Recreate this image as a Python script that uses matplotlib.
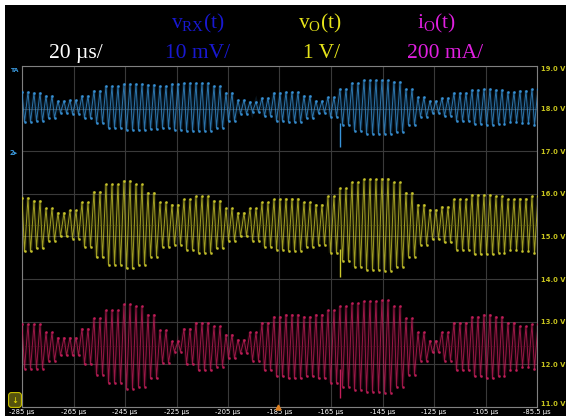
import numpy as np
import matplotlib
matplotlib.use("Agg")
import matplotlib.pyplot as plt

plt.rcParams['mathtext.fontset'] = 'custom'
plt.rcParams['mathtext.rm'] = 'Liberation Serif'
plt.rcParams['mathtext.it'] = 'Liberation Serif:italic'

# ---------------- data ----------------
# envelope sample times (µs), one every 5 µs across the screen
env_t = list(range(-285, -84, 5))

# half peak-to-peak amplitude of each trace (in screen volts) at env_t
blue_amp = [0.35, 0.33, 0.26, 0.14, 0.16, 0.26, 0.38, 0.49, 0.54, 0.54, 0.52,
            0.49, 0.54, 0.56, 0.56, 0.49, 0.33, 0.16, 0.12, 0.21, 0.33, 0.35,
            0.26, 0.14, 0.23, 0.42, 0.56, 0.63, 0.63, 0.59, 0.42, 0.23, 0.14,
            0.21, 0.33, 0.40, 0.42, 0.40, 0.35, 0.38, 0.42]
yellow_amp = [0.63, 0.56, 0.38, 0.28, 0.33, 0.52, 0.77, 0.94, 1.03, 0.94, 0.75,
              0.52, 0.47, 0.59, 0.66, 0.56, 0.38, 0.28, 0.38, 0.52, 0.59, 0.61,
              0.52, 0.47, 0.66, 0.85, 0.99, 1.06, 1.08, 0.99, 0.75, 0.47, 0.35,
              0.42, 0.59, 0.70, 0.70, 0.66, 0.59, 0.61, 0.66]
pink_amp = [0.52, 0.52, 0.33, 0.21, 0.21, 0.42, 0.66, 0.85, 0.99, 0.94, 0.75,
            0.38, 0.12, 0.42, 0.56, 0.47, 0.28, 0.16, 0.33, 0.56, 0.70, 0.75,
            0.70, 0.75, 0.85, 0.94, 1.01, 1.06, 1.08, 0.94, 0.66, 0.33, 0.14,
            0.33, 0.56, 0.70, 0.75, 0.70, 0.56, 0.47, 0.52]

# trace centre levels (screen volts)
blue_center = 18.04
yellow_center = 15.28
pink_center = 12.42

# carrier period of the switching ripple (µs)
carrier_period = 2.33

# glitch near t = -161.5 µs: (top, bottom) of the spike per trace
glitch_t = -161.5
glitch_blue = (17.66, 17.10)
glitch_yellow = (14.70, 14.05)
glitch_pink = (11.90, 11.20)

# axes ticks / labels
x_ticks = [-285, -265, -245, -225, -205, -185, -165, -145, -125, -105, -85]
x_labels = ['-285 µs', '-265 µs', '-245 µs', '-225 µs', '-205 µs', '-185 µs',
            '-165 µs', '-145 µs', '-125 µs', '-105 µs', '-85.5 µs']
y_ticks = [11, 12, 13, 14, 15, 16, 17, 18, 19]
y_labels = ['11.0 V', '12.0 V', '13.0 V', '14.0 V', '15.0 V', '16.0 V',
            '17.0 V', '18.0 V', '19.0 V']

# header texts
header_scales = ['20 µs/', '10 mV/', '1 V/', '200 mA/']
header_names = [r'$\mathrm{v_{RX}(t)}$', r'$\mathrm{v_{O}(t)}$', r'$\mathrm{i_{O}(t)}$']

# ---------------- figure ----------------
W, H = 566, 419
fig = plt.figure(figsize=(W / 100, H / 100), dpi=100, facecolor='white')
bg = plt.Rectangle((5 / W, 3 / H), 1 - 5 / W, 1 - 3 / H - 5 / H,
                   transform=fig.transFigure, facecolor='black',
                   edgecolor='none', zorder=-10)
fig.add_artist(bg)

ax = fig.add_axes([22 / W, 1 - 407 / H, (537 - 22) / W, (407 - 66) / H])
ax.set_zorder(1)
ax.set_facecolor('black')
ax.set_xlim(-285, -85)
ax.set_ylim(11, 19)
ax.set_xticks(x_ticks)
ax.set_xticklabels(x_labels, color='white', fontsize=4.9, family='DejaVu Sans')
ax.set_yticks(y_ticks)
ax.yaxis.tick_right()
ax.set_yticklabels(y_labels, color='#c8c41e', fontsize=4.9, fontweight='bold',
                   family='DejaVu Sans')
ax.tick_params(length=0, pad=1.5)
ax.tick_params(axis='y', pad=3)
ax.grid(True, color='#3a3a3a', linewidth=0.8)
for s in ax.spines.values():
    s.set_color('#808080')
    s.set_linewidth(0.8)
labs = ax.get_yticklabels()
labs[0].set_va('bottom')
labs[-1].set_va('top')

# centre dotted axis
ax.axvline(-185, color='#8a8a8a', linestyle=(0, (1, 2)), linewidth=0.7, zorder=1)


def build_trace(center, amp):
    tt, vv = [], []
    n = int(np.ceil(200 / carrier_period)) + 1
    env = np.array(env_t)
    for k in range(n):
        t0 = -285 + k * carrier_period
        idx = int(np.argmin(np.abs(env - t0)))
        a = amp[idx]
        tt += [t0, t0 + 0.42 * carrier_period]
        vv += [center + a, center - a]
    return np.array(tt), np.array(vv)


traces = [
    (blue_center, blue_amp, '#3894da', glitch_blue),
    (yellow_center, yellow_amp, '#cdc92c', glitch_yellow),
    (pink_center, pink_amp, '#c41e5a', glitch_pink),
]
for center, amp, col, gl in traces:
    tt, vv = build_trace(center, amp)
    ax.plot(tt, vv, color=col, linewidth=2.6, alpha=0.14, zorder=2,
            solid_joinstyle='miter')
    ax.plot(tt, vv, color=col, linewidth=0.7, alpha=0.75, zorder=3)
    ax.plot(tt, vv, linestyle='none', marker='o', markersize=1.0,
            color=col, alpha=0.8, zorder=3)
    ax.axhline(center, color=col, linestyle=(0, (1, 3)), linewidth=0.5,
               alpha=0.4, zorder=2)
    ax.vlines(glitch_t, gl[1], gl[0], color=col, linewidth=1.0, zorder=4)

# ---------------- header ----------------
hfont = dict(family='Liberation Serif', fontsize=15.5, ha='center', va='baseline')
scale_x = [76, 198, 322, 445]
scale_cols = ['white', '#1818d0', '#e6e41a', '#e020e0']
for s, x, c in zip(header_scales, scale_x, scale_cols):
    fig.text(x / W, 1 - 58 / H, s, color=c, **hfont)
name_x = [198, 320, 436]
for s, x, c in zip(header_names, name_x, scale_cols[1:]):
    fig.text(x / W, 1 - 28 / H, s, color=c, **hfont)

# ---------------- scope markers ----------------
fig.text(10 / W, 1 - 71 / H, 'TA', color='#3a98dc', fontsize=4.5,
         fontweight='bold', va='center', family='DejaVu Sans')
fig.text(10 / W, 1 - 153 / H, '2▸', color='#3a98dc', fontsize=5,
         fontweight='bold', va='center', family='DejaVu Sans')
fig.text(15 / W, 1 - 400 / H, '↓', color='#f0e800', fontsize=6, ha='center',
         va='center', family='DejaVu Sans',
         bbox=dict(boxstyle='round,pad=0.35', fc='#55520e', ec='#c8c000', lw=0.8))
ax.plot([-185.5], [11.0], marker='^', markersize=3.5, color='#e08020',
        clip_on=False, zorder=5, linestyle='none')

fig.savefig('out.png', dpi=100, facecolor='white')
